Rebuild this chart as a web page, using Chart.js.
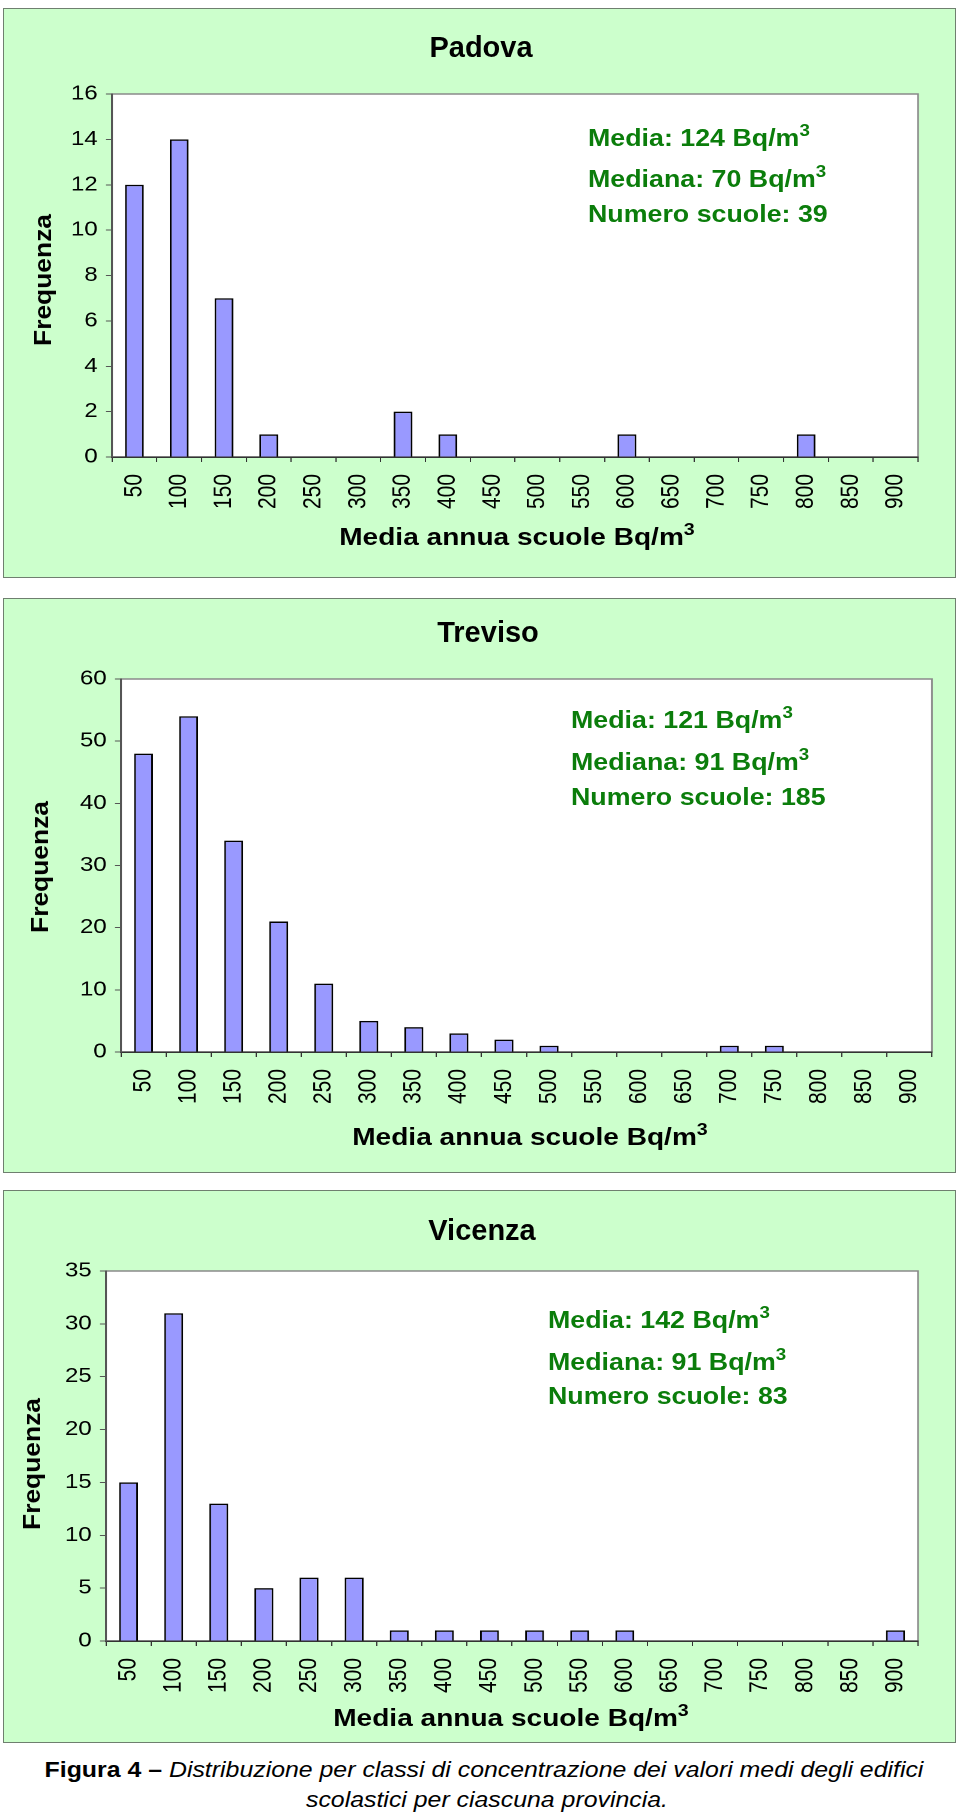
<!DOCTYPE html>
<html><head><meta charset="utf-8">
<script src="https://cdn.jsdelivr.net/npm/chart.js@4"></script>
<style>
html,body{margin:0;padding:0;background:#fff;}
#page{position:relative;width:960px;height:1818px;overflow:hidden;font-family:"Liberation Sans",Arial,sans-serif;color:#000;}
.panel{position:absolute;left:3px;width:953px;box-sizing:border-box;border:1px solid #6f7f6f;background:#ccffcc;}
.cv{position:absolute;left:0;transform-origin:0 0;transform:scaleX(1.2);}
.t{position:absolute;white-space:nowrap;line-height:1;}
.title{font-weight:bold;font-size:29px;transform-origin:center;transform:translateX(-50%);}
.ann{font-weight:bold;font-size:23.5px;color:#0b7d0b;transform-origin:0 0;transform:scaleX(1.14);}
.xt{font-weight:bold;font-size:23px;transform-origin:center;transform:translateX(-50%) scaleX(1.22);}
.yt{font-weight:bold;font-size:24px;transform-origin:center;transform:translate(-50%,-50%) rotate(-90deg) scaleX(1.1);}
.sup{font-size:0.7em;position:relative;top:-0.6em;line-height:0;}
.cap{font-size:22px;transform-origin:center;transform:translateX(-50%) scaleX(1.13);}
</style>
</head>
<body>
<div id="page">
  <div class="panel" style="top:8px;height:570px;"></div>
  <div class="panel" style="top:598px;height:575px;"></div>
  <div class="panel" style="top:1190px;height:553px;"></div>

  <canvas id="c1" class="cv" width="800" height="570" style="top:8px"></canvas>
  <canvas id="c2" class="cv" width="800" height="575" style="top:598px"></canvas>
  <canvas id="c3" class="cv" width="800" height="553" style="top:1190px"></canvas>

  <!-- Padova -->
  <div class="t title" style="left:481px;top:32.5px">Padova</div>
  <div class="t ann" style="left:588px;top:127px">Media: 124 Bq/m<span class="sup">3</span></div>
  <div class="t ann" style="left:588px;top:168px">Mediana: 70 Bq/m<span class="sup">3</span></div>
  <div class="t ann" style="left:588px;top:203px">Numero scuole: 39</div>
  <div class="t yt" style="left:43px;top:280px">Frequenza</div>
  <div class="t xt" style="left:517px;top:525.5px">Media annua scuole Bq/m<span class="sup">3</span></div>

  <!-- Treviso -->
  <div class="t title" style="left:488px;top:617.5px">Treviso</div>
  <div class="t ann" style="left:571px;top:709px">Media: 121 Bq/m<span class="sup">3</span></div>
  <div class="t ann" style="left:571px;top:751px">Mediana: 91 Bq/m<span class="sup">3</span></div>
  <div class="t ann" style="left:571px;top:786px">Numero scuole: 185</div>
  <div class="t yt" style="left:40px;top:867px">Frequenza</div>
  <div class="t xt" style="left:530px;top:1125.5px">Media annua scuole Bq/m<span class="sup">3</span></div>

  <!-- Vicenza -->
  <div class="t title" style="left:482px;top:1215.5px">Vicenza</div>
  <div class="t ann" style="left:548px;top:1309px">Media: 142 Bq/m<span class="sup">3</span></div>
  <div class="t ann" style="left:548px;top:1351px">Mediana: 91 Bq/m<span class="sup">3</span></div>
  <div class="t ann" style="left:548px;top:1385px">Numero scuole: 83</div>
  <div class="t yt" style="left:32px;top:1464px">Frequenza</div>
  <div class="t xt" style="left:511px;top:1706.5px">Media annua scuole Bq/m<span class="sup">3</span></div>

  <!-- Caption -->
  <div class="t cap" style="left:484px;top:1759px"><b>Figura 4 –</b> <i>Distribuzione per classi di concentrazione dei valori medi degli edifici</i></div>
  <div class="t cap" style="left:487px;top:1789px"><i>scolastici per ciascuna provincia.</i></div>
</div>

<script>
// ---- data ----
const categories = ['50','100','150','200','250','300','350','400','450','500','550','600','650','700','750','800','850','900'];
const padovaCounts  = [12, 14, 7, 1, 0, 0, 2, 1, 0, 0, 0, 1, 0, 0, 0, 1, 0, 0];
const trevisoCounts = [48, 54, 34, 21, 11, 5, 4, 3, 2, 1, 0, 0, 0, 1, 1, 0, 0, 0];
const vicenzaCounts = [15, 31, 13, 5, 6, 6, 1, 1, 1, 1, 1, 1, 0, 0, 0, 0, 0, 1];
const padovaYMax = 16,  padovaYStep = 2;
const trevisoYMax = 60, trevisoYStep = 10;
const vicenzaYMax = 35, vicenzaYStep = 5;

const FONT = '"Liberation Sans", Arial, sans-serif';

const plotBg = {
  id: 'plotBg',
  beforeDraw(chart) {
    const {ctx, chartArea: a} = chart;
    ctx.save();
    ctx.fillStyle = '#ffffff';
    ctx.fillRect(a.left, a.top, a.right - a.left, a.bottom - a.top);
    ctx.strokeStyle = '#8a8a8a';
    ctx.lineWidth = 1.5;
    ctx.strokeRect(a.left, a.top, a.right - a.left, a.bottom - a.top);
    ctx.restore();
  }
};

function makeChart(id, counts, yMax, yStep, pad) {
  return new Chart(document.getElementById(id), {
    type: 'bar',
    data: {
      labels: categories,
      datasets: [{
        data: counts,
        backgroundColor: '#9999ff',
        borderColor: '#000000',
        borderWidth: 1.5,
        categoryPercentage: 1,
        barPercentage: 0.42
      }]
    },
    options: {
      responsive: false,
      animation: false,
      devicePixelRatio: 2,
      layout: { padding: pad },
      plugins: { legend: { display: false }, tooltip: { enabled: false }, title: { display: false } },
      scales: {
        x: {
          grid: { display: true, drawOnChartArea: false, drawTicks: true, tickLength: 5, color: '#333', offset: true },
          border: { display: true, color: '#333', width: 1.5 },
          ticks: { color: '#000', font: { family: FONT, size: 21 }, minRotation: 90, maxRotation: 90, padding: 12, autoSkip: false },
          afterFit: s => { s.height = 60; }
        },
        y: {
          min: 0, max: yMax,
          grid: { display: true, drawOnChartArea: false, drawTicks: true, tickLength: 5, color: '#555' },
          border: { display: true, color: '#555', width: 1.5 },
          ticks: { stepSize: yStep, color: '#000', font: { family: FONT, size: 20 }, padding: 7 },
          afterFit: s => { s.width = 40; }
        }
      }
    },
    plugins: [plotBg]
  });
}

makeChart('c1', padovaCounts, padovaYMax, padovaYStep, {left: 53.33, right: 35, top: 86, bottom: 61});
makeChart('c2', trevisoCounts, trevisoYMax, trevisoYStep, {left: 60.83, right: 23.33, top: 81, bottom: 61});
makeChart('c3', vicenzaCounts, vicenzaYMax, vicenzaYStep, {left: 48.33, right: 35, top: 81, bottom: 42});
</script>
</body></html>
